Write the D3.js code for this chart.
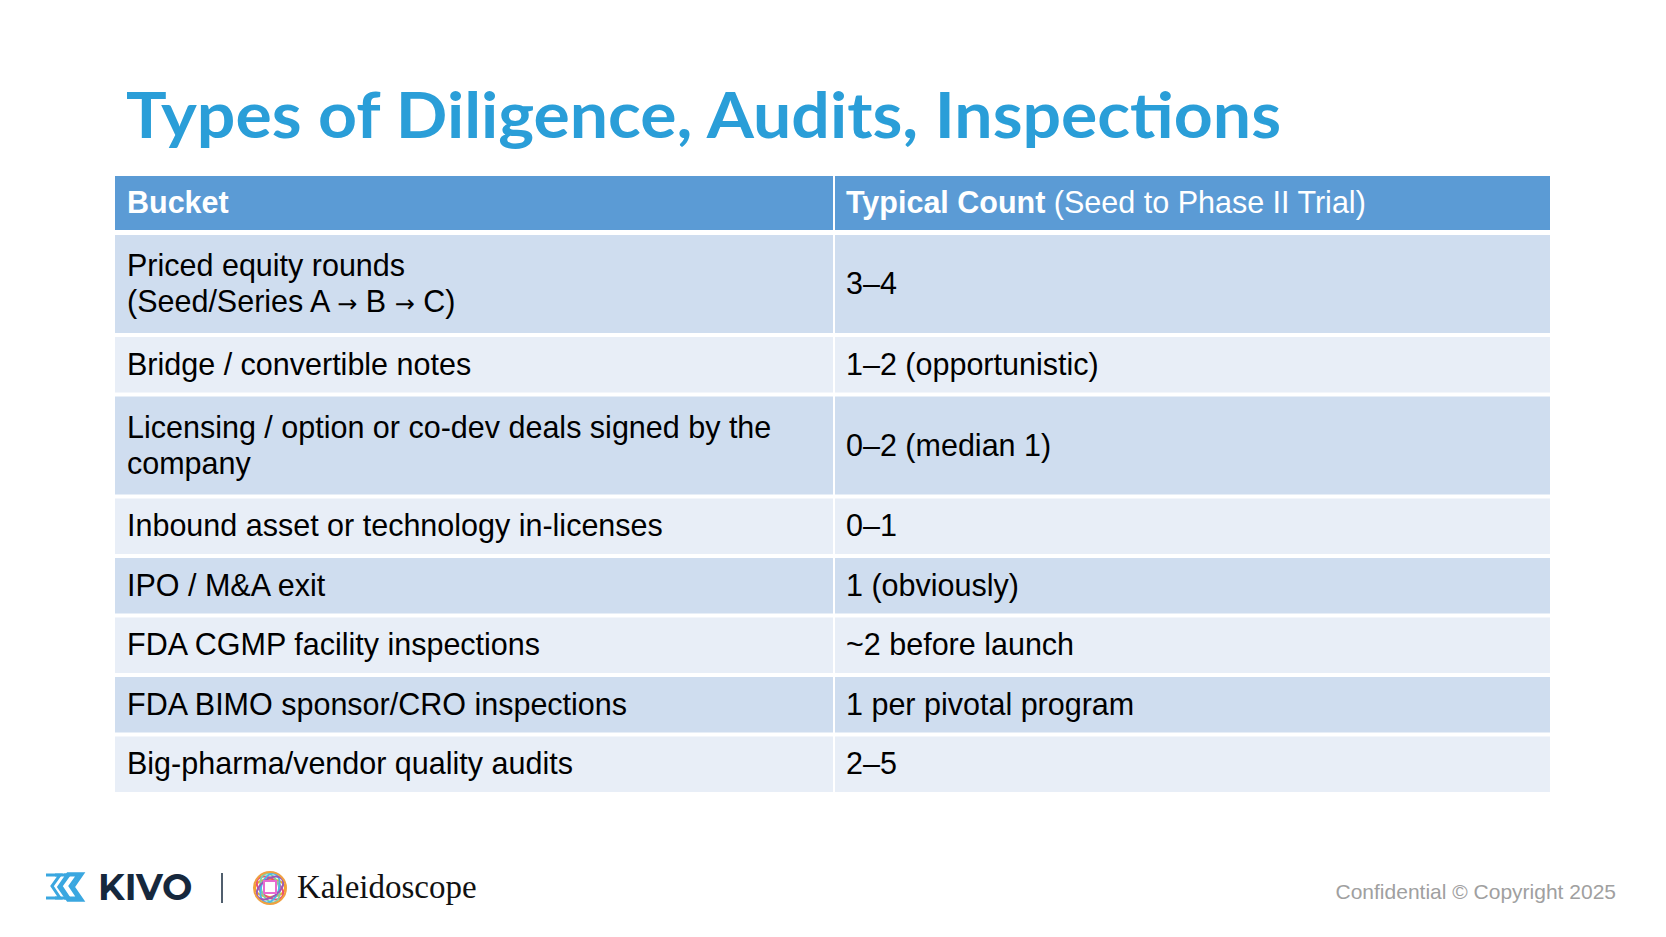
<!DOCTYPE html>
<html><head><meta charset="utf-8">
<script src="https://cdn.jsdelivr.net/npm/d3@7"></script>
<style>body{margin:0;background:#fff}svg{display:block}</style>
</head><body>
<script>
const title = "Types of Diligence, Audits, Inspections";
const headers = ["Bucket", "Typical Count"];
const headerNote = " (Seed to Phase II Trial)";
const buckets = [
  ["Priced equity rounds", "(Seed/Series A \u2192 B \u2192 C)"],
  ["Bridge / convertible notes"],
  ["Licensing / option or co-dev deals signed by the", "company"],
  ["Inbound asset or technology in-licenses"],
  ["IPO / M&A exit"],
  ["FDA CGMP facility inspections"],
  ["FDA BIMO sponsor/CRO inspections"],
  ["Big-pharma/vendor quality audits"]
];
const counts = ["3\u20134", "1\u20132 (opportunistic)", "0\u20132 (median 1)", "0\u20131", "1 (obviously)", "~2 before launch", "1 per pivotal program", "2\u20135"];

const W = 1666, H = 937;
const svg = d3.select("body").append("svg").attr("width", W).attr("height", H);
const font = "'Liberation Sans', Arial, Helvetica, sans-serif";
const fs = 30.5;

svg.append("text").attr("x", 126).attr("y", 138).text(title)
  .attr("font-family", "Lato, 'Open Sans', sans-serif").attr("font-weight", 700)
  .attr("font-size", 64).attr("fill", "#2a9ed8").attr("textLength", 1155).attr("lengthAdjust", "spacingAndGlyphs");

const x0 = 115, xDiv = 834, x1 = 1550;
const headTop = 176, headBot = 230;
const rowH = buckets.map(b => b.length > 1 ? 98 : 55.5);
const gap = 4;
let tops = [], y = headBot + 5;
rowH.forEach(h => { tops.push(y); y += h + gap; });

svg.append("rect").attr("x", x0).attr("y", headTop).attr("width", x1 - x0).attr("height", headBot - headTop).attr("fill", "#5b9bd5");
svg.append("line").attr("x1", xDiv).attr("x2", xDiv).attr("y1", headTop).attr("y2", y).attr("stroke", "#fff").attr("stroke-width", 2);

svg.append("text").attr("x", x0 + 12).attr("y", headTop + 37).text(headers[0])
  .attr("font-family", font).attr("font-weight", 700).attr("font-size", fs).attr("fill", "#fff");
const ht = svg.append("text").attr("x", xDiv + 12).attr("y", headTop + 37).attr("font-family", font).attr("font-size", fs).attr("fill", "#fff");
ht.append("tspan").attr("font-weight", 700).text(headers[1]);
ht.append("tspan").text(headerNote);

const rows = svg.selectAll("g.row").data(buckets).join("g").attr("class", "row");
rows.append("rect").attr("x", x0).attr("y", (d, i) => tops[i]).attr("width", xDiv - x0 - 1).attr("height", (d, i) => rowH[i])
  .attr("fill", (d, i) => i % 2 ? "#e8eef7" : "#cfddef");
rows.append("rect").attr("x", xDiv + 1).attr("y", (d, i) => tops[i]).attr("width", x1 - xDiv - 1).attr("height", (d, i) => rowH[i])
  .attr("fill", (d, i) => i % 2 ? "#e8eef7" : "#cfddef");
rows.each(function (d, i) {
  const g = d3.select(this);
  const mid = tops[i] + rowH[i] / 2;
  const n = d.length, lh = 36;
  d.forEach((line, k) => {
    const t = g.append("text").attr("x", x0 + 12).attr("y", mid + (k - (n - 1) / 2) * lh + 10)
      .attr("font-family", font).attr("font-size", fs).attr("fill", "#000");
    line.split(/(\u2192)/).forEach(part => {
      if (!part) return;
      const s = t.append("tspan").text(part);
      if (part === "\u2192") s.attr("font-family", "'DejaVu Sans', sans-serif").attr("font-size", 24);
    });
  });
  g.append("text").attr("x", xDiv + 12).attr("y", mid + 10).text(counts[i])
    .attr("font-family", font).attr("font-size", fs).attr("fill", "#000");
});

// Footer logos
const lg = svg.append("g");
const blue = "#3aa7e0";
[0, 9, 18].forEach(dx => {
  lg.append("path").attr("d", `M${46 + dx},${875} l14,-0 l-8,11 l8,12 l-14,0`)
    .attr("fill", "none").attr("stroke", blue).attr("stroke-width", 3);
});
lg.append("path").attr("d", "M68,874 l14,0 l-9,13 l9,13 l-14,0 l-9,-13 z").attr("fill", "none").attr("stroke", blue).attr("stroke-width", 3.5);
lg.append("text").attr("x", 98).attr("y", 900).text("KIVO").attr("font-family", "Montserrat, 'Open Sans', sans-serif")
  .attr("font-weight", 700).attr("font-size", 36).attr("fill", "#16283d");
lg.append("line").attr("x1", 222).attr("x2", 222).attr("y1", 873).attr("y2", 903).attr("stroke", "#16283d").attr("stroke-width", 1.5);
const cx = 270, cy = 888;
const ringCols = ["#f5a623", "#e94e77", "#7ed3a0", "#4db8e8", "#9b59b6"];
ringCols.forEach((c, k) => {
  lg.append("ellipse").attr("cx", cx).attr("cy", cy).attr("rx", 15).attr("ry", 9)
    .attr("transform", `rotate(${k * 36} ${cx} ${cy})`).attr("fill", "none").attr("stroke", c).attr("stroke-width", 2);
});
lg.append("circle").attr("cx", cx).attr("cy", cy).attr("r", 16).attr("fill", "none").attr("stroke", "#f0a040").attr("stroke-width", 2);
lg.append("rect").attr("x", cx - 6).attr("y", cy - 7).attr("width", 12).attr("height", 12).attr("fill", "none").attr("stroke", "#e86bd0").attr("stroke-width", 2);
lg.append("text").attr("x", 297).attr("y", 898).text("Kaleidoscope").attr("font-family", "'Liberation Serif', 'DejaVu Serif', serif")
  .attr("font-size", 33).attr("fill", "#111");

svg.append("text").attr("x", 1616).attr("y", 899).attr("text-anchor", "end").text("Confidential \u00a9 Copyright 2025")
  .attr("font-family", font).attr("font-size", 21).attr("fill", "#a0a0a0");
</script>
</body></html>
